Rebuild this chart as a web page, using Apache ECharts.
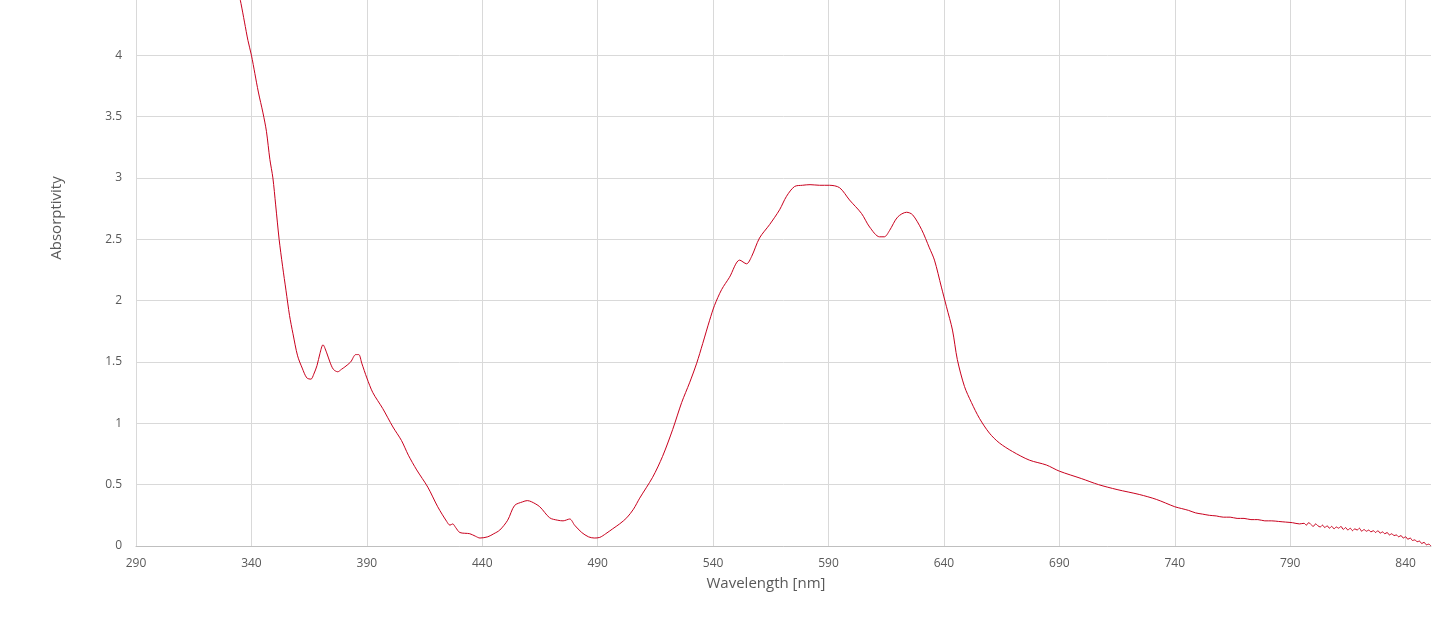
<!DOCTYPE html>
<html>
<head>
<meta charset="utf-8">
<script src="https://cdn.jsdelivr.net/npm/echarts@6/dist/echarts.min.js"></script>
<style>
html,body{margin:0;padding:0;background:#fff;}
#chart{width:1446px;height:619px;}
</style>
</head>
<body>
<div id="chart"></div>
<script>
// Wavelength [nm]
const wavelength = [
  333.5,335.5,337,338.5,340,341.5,343,345,346.5,348,349.3,350.5,352,353.5,355,356.5,358,360,362,364,365.8,367,368.4,369.7,371,372.5,374,375.5,377.4,379,380.5,383,385.2,386.5,387.8,390,392.6,396.9,401.3,405,408,411.6,416.4,420.7,424.6,426,427.2,428.5,430.3,434.6,437,439,442.4,445,447.6,451,454,457.5,459.5,461.4,464.9,469.2,472.7,475,477.9,480,483.1,486,488.5,490.9,493.5,496.5,499.5,502.6,505.5,508.2,513.8,518.1,522.5,526.4,529.8,532.9,535.5,538.5,540.6,543.7,547.1,551.5,554.5,556.7,560.1,564.5,568.8,571.8,575.3,578.7,582,586.1,590.4,594.8,599.1,604.3,607.8,612.1,614.2,616.4,619.9,623.8,626.4,630.3,633.7,635.9,638.9,641.1,643.7,645.8,648.9,651.9,655.4,659.7,664,669.7,677,684.4,690,699.5,707,715,724.6,732,
  740,743,746,749,752,755,758,761,764,767,770,773,776,779,782,785,788,791,794,
  796,797,798,799,800,801,802,803,804,805,806,807,808,809,810,811,812,813,814,815,816,817,818,819,820,821,822,823,824,825,826,827,828,829,830,831,832,833,834,835,836,837,838,839,840,841,842,843,844,845,846,847,848,849,850,851
];
// Absorptivity
const absorptivity = [
  4.60,4.42,4.27,4.12,4.00,3.85,3.70,3.53,3.38,3.15,3.00,2.78,2.50,2.28,2.08,1.88,1.73,1.55,1.45,1.37,1.36,1.40,1.47,1.57,1.64,1.58,1.50,1.44,1.42,1.44,1.46,1.50,1.56,1.56,1.49,1.37,1.25,1.12,0.97,0.86,0.74,0.62,0.48,0.32,0.20,0.17,0.18,0.15,0.11,0.10,0.08,0.065,0.075,0.10,0.13,0.21,0.33,0.36,0.37,0.36,0.32,0.23,0.21,0.205,0.22,0.17,0.11,0.075,0.065,0.07,0.10,0.14,0.18,0.23,0.30,0.39,0.56,0.73,0.95,1.17,1.33,1.49,1.65,1.84,1.96,2.09,2.19,2.33,2.30,2.36,2.51,2.62,2.74,2.85,2.93,2.94,2.945,2.94,2.94,2.92,2.82,2.71,2.60,2.52,2.52,2.57,2.68,2.72,2.70,2.58,2.43,2.33,2.11,1.95,1.76,1.52,1.30,1.17,1.04,0.92,0.84,0.77,0.70,0.66,0.61,0.55,0.50,0.46,0.42,0.38,
  0.32,0.305,0.29,0.27,0.26,0.25,0.245,0.235,0.235,0.225,0.225,0.215,0.215,0.205,0.205,0.20,0.195,0.19,0.18,
  0.185,0.17,0.19,0.175,0.16,0.18,0.165,0.155,0.17,0.15,0.165,0.145,0.16,0.14,0.155,0.145,0.16,0.135,0.15,0.13,0.145,0.125,0.14,0.13,0.145,0.12,0.135,0.12,0.13,0.115,0.125,0.11,0.125,0.105,0.115,0.10,0.11,0.09,0.10,0.085,0.09,0.075,0.085,0.065,0.075,0.055,0.065,0.045,0.05,0.035,0.04,0.02,0.03,0.01,0.015,0.0
];

const seriesData = wavelength.map((w, i) => [w, absorptivity[i]]);
const FONT = '"Open Sans", "Noto Sans", sans-serif';

const chart = echarts.init(document.getElementById('chart'), null, {renderer: 'canvas'});
chart.setOption({
  animation: false,
  backgroundColor: '#ffffff',
  grid: {left: 136, right: 15, top: 0, bottom: 73, containLabel: false},
  xAxis: {
    type: 'value',
    min: 290, max: 851, interval: 50,
    name: 'Wavelength [nm]',
    nameLocation: 'middle',
    nameGap: 30,
    nameTextStyle: {fontFamily: FONT, fontSize: 15, color: '#595959', padding: [0, 35, 0, 0]},
    axisLine: {show: true, lineStyle: {color: '#bfbfbf', width: 1}},
    axisTick: {show: false},
    axisLabel: {fontFamily: FONT, fontSize: 12, color: '#595959', margin: 12, showMaxLabel: false},
    splitLine: {show: true, showMaxLine: false, lineStyle: {color: '#d9d9d9', width: 1}}
  },
  yAxis: {
    type: 'value',
    min: 0, max: 4.45, interval: 0.5,
    name: 'Absorptivity',
    nameLocation: 'middle',
    nameGap: 72,
    nameTextStyle: {fontFamily: FONT, fontSize: 15, color: '#595959', padding: [0, 0, 0, 110]},
    axisLine: {show: false},
    axisTick: {show: false},
    axisLabel: {fontFamily: FONT, fontSize: 12, color: '#595959', margin: 14, showMaxLabel: false},
    splitLine: {show: true, showMaxLine: false, lineStyle: {color: '#d9d9d9', width: 1}}
  },
  series: [{
    type: 'line',
    data: seriesData,
    showSymbol: false,
    smooth: 0.3,
    lineStyle: {color: '#c8001e', width: 1},
    itemStyle: {color: '#c8001e'},
    clip: true
  }]
});
</script>
</body>
</html>
